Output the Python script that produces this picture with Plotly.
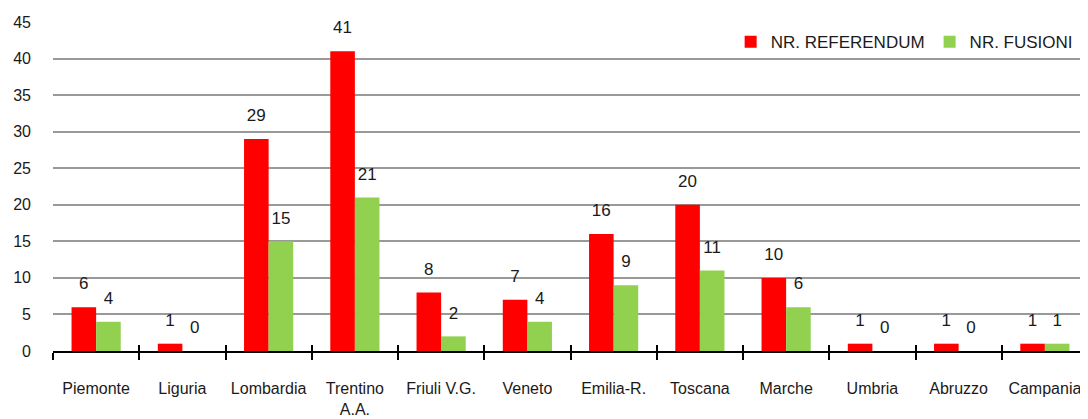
import plotly.graph_objects as go

categories = ["Piemonte", "Liguria", "Lombardia", "Trentino<br>A.A.", "Friuli V.G.", "Veneto",
              "Emilia-R.", "Toscana", "Marche", "Umbria", "Abruzzo", "Campania"]
referendum = [6, 1, 29, 41, 8, 7, 16, 20, 10, 1, 1, 1]
fusioni = [4, 0, 15, 21, 2, 4, 9, 11, 6, 0, 0, 1]
y_ticks = [0, 5, 10, 15, 20, 25, 30, 35, 40, 45]

FONT = "Liberation Sans, Arial, sans-serif"
TXT = "#1a1a1a"

fig = go.Figure()
series = [("NR. REFERENDUM", referendum, "#FF0000", "a"),
          ("NR. FUSIONI", fusioni, "#92D050", "b")]
for name, vals, col, grp in series:
    fig.add_trace(go.Bar(name=name, x=categories, y=vals,
                         marker=dict(color=col, line=dict(width=0)),
                         offsetgroup=grp, alignmentgroup="g"))
for name, vals, col, grp in series:
    fig.add_trace(go.Scatter(x=categories, y=vals, mode="markers+text", text=vals,
                             textposition="top center", cliponaxis=False,
                             marker=dict(size=20, opacity=0),
                             textfont=dict(size=17, color=TXT, family=FONT),
                             offsetgroup=grp, alignmentgroup="g",
                             showlegend=False, hoverinfo="skip"))
# helper trace for inside tick marks on overlaid axis
fig.add_trace(go.Bar(x=categories, y=[None] * len(categories), xaxis="x2",
                     showlegend=False, hoverinfo="skip"))

fig.update_layout(
    width=1080, height=411,
    margin=dict(l=45, r=0, t=14, b=68, autoexpand=False),
    paper_bgcolor="white", plot_bgcolor="white",
    barmode="group", bargap=0.43, bargroupgap=0,
    scattermode="group", scattergap=0.43,
    font=dict(family=FONT, size=16, color=TXT),
    showlegend=True,
    legend=dict(orientation="h", x=0.99, xanchor="right", y=0.993, yanchor="top",
                bgcolor="rgba(255,255,255,0)", font=dict(size=17, family=FONT, color=TXT),
                itemwidth=30, traceorder="normal"),
    xaxis=dict(type="category", showgrid=False, showline=True, linecolor="black", linewidth=2,
               ticks="outside", ticklen=7, tickwidth=1.5, tickcolor="black",
               tickson="boundaries", tickangle=0, automargin=False,
               tickfont=dict(size=16, family=FONT, color=TXT),
               ticklabelstandoff=22),
    xaxis2=dict(type="category", overlaying="x", side="bottom", showgrid=False, showline=False,
                ticks="inside", ticklen=6, tickwidth=1.5, tickcolor="black",
                tickson="boundaries", showticklabels=False, matches="x", automargin=False),
    yaxis=dict(range=[0, 45], tickvals=y_ticks, showgrid=True, gridcolor="#999999", gridwidth=1.5,
               zeroline=False, showline=False, ticks="", ticklabelstandoff=21, automargin=False,
               tickfont=dict(size=16, family=FONT, color=TXT)),
)

fig.write_html("out.html")
